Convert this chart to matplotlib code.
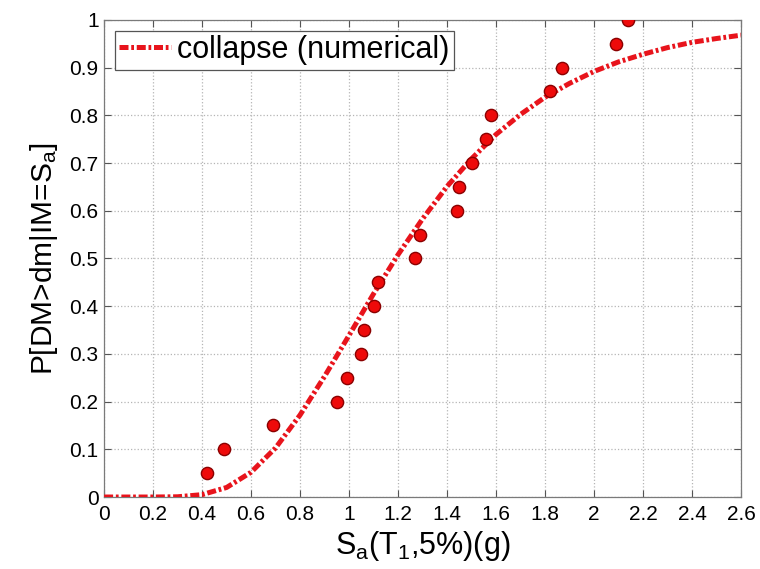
"""Collapse fragility curve vs Sa(T1,5%) — MATLAB-style figure."""
import matplotlib.pyplot as plt
from matplotlib.lines import Line2D

# fitted curve, Sa in g
curve_sa = [0.0, 0.1, 0.2, 0.3, 0.4, 0.5, 0.6, 0.7, 0.8, 0.9, 1.0, 1.1, 1.2, 1.3,
            1.4, 1.5, 1.6, 1.7, 1.8, 1.9, 2.0, 2.1, 2.2, 2.3, 2.4, 2.5, 2.6]
curve_p = [0.0, 0.0, 0.0, 0.0005, 0.005, 0.020, 0.052, 0.103, 0.172, 0.253, 0.339,
           0.426, 0.508, 0.583, 0.651, 0.709, 0.760, 0.802, 0.838, 0.867, 0.892,
           0.912, 0.928, 0.942, 0.953, 0.961, 0.968]

# empirical collapse fractions
pts_sa = [0.42, 0.49, 0.69, 0.95, 0.99, 1.05, 1.06, 1.10, 1.12, 1.27,
          1.29, 1.44, 1.45, 1.50, 1.56, 1.58, 1.82, 1.87, 2.09, 2.14]
pts_p = [0.05, 0.10, 0.15, 0.20, 0.25, 0.30, 0.35, 0.40, 0.45, 0.50,
         0.55, 0.60, 0.65, 0.70, 0.75, 0.80, 0.85, 0.90, 0.95, 1.00]

xticks = [0, 0.2, 0.4, 0.6, 0.8, 1, 1.2, 1.4, 1.6, 1.8, 2, 2.2, 2.4, 2.6]
xtick_labels = ["0", "0.2", "0.4", "0.6", "0.8", "1", "1.2", "1.4", "1.6",
                "1.8", "2", "2.2", "2.4", "2.6"]
yticks = [0, 0.1, 0.2, 0.3, 0.4, 0.5, 0.6, 0.7, 0.8, 0.9, 1]
ytick_labels = ["0", "0.1", "0.2", "0.3", "0.4", "0.5", "0.6", "0.7", "0.8", "0.9", "1"]

RED = "#e8141c"
DASH = (0, (1.8, 0.55, 0.55, 0.55))
plt.rcParams["font.family"] = ["Liberation Sans", "DejaVu Sans"]
plt.rcParams["mathtext.fontset"] = "custom"
plt.rcParams["mathtext.rm"] = "Liberation Sans"
plt.rcParams["mathtext.it"] = "Liberation Sans"

fig = plt.figure(figsize=(7.6, 5.69), dpi=100, facecolor="white")
ax = fig.add_axes([0.137, 0.1265, 0.838, 0.8385])

ax.plot(curve_sa, curve_p, color=RED, lw=3.6, linestyle=DASH,
        dash_capstyle="butt", zorder=3)
ax.plot(pts_sa, pts_p, linestyle="none", marker="o", markersize=8.8,
        markerfacecolor="#ee0a0a", markeredgecolor="#8a0000", markeredgewidth=1.0,
        zorder=4)

ax.set_xlim(0, 2.6)
ax.set_ylim(0, 1)
ax.set_xticks(xticks)
ax.set_xticklabels(xtick_labels)
ax.set_yticks(yticks)
ax.set_yticklabels(ytick_labels)
ax.tick_params(direction="in", length=5, width=0.8, color="#555555",
               top=True, right=True, labelsize=15)
ax.tick_params(axis="x", pad=6)
ax.tick_params(axis="y", pad=4)
ax.grid(True, linestyle=":", color="#b5b5b5", lw=0.9)
for sp in ax.spines.values():
    sp.set_color("#7a7a7a")
    sp.set_linewidth(0.9)

ax.set_xlabel(r"S$_\mathregular{a}$(T$_\mathregular{1}$,5%)(g)", fontsize=22, labelpad=3)
ax.set_ylabel(r"P[DM>dm|IM=S$_\mathregular{a}$]", fontsize=21.5, labelpad=7)

handle = Line2D([], [], color=RED, lw=3.6, linestyle=DASH)
leg = ax.legend([handle], ["collapse (numerical)"], loc="upper left", fontsize=22,
                handlelength=1.7, handletextpad=0.2, borderpad=0.15,
                borderaxespad=0.35, fancybox=False, framealpha=1)
leg.get_frame().set_edgecolor("#555555")
leg.get_frame().set_linewidth(0.9)

fig.savefig("out.png", dpi=100, facecolor="white")
